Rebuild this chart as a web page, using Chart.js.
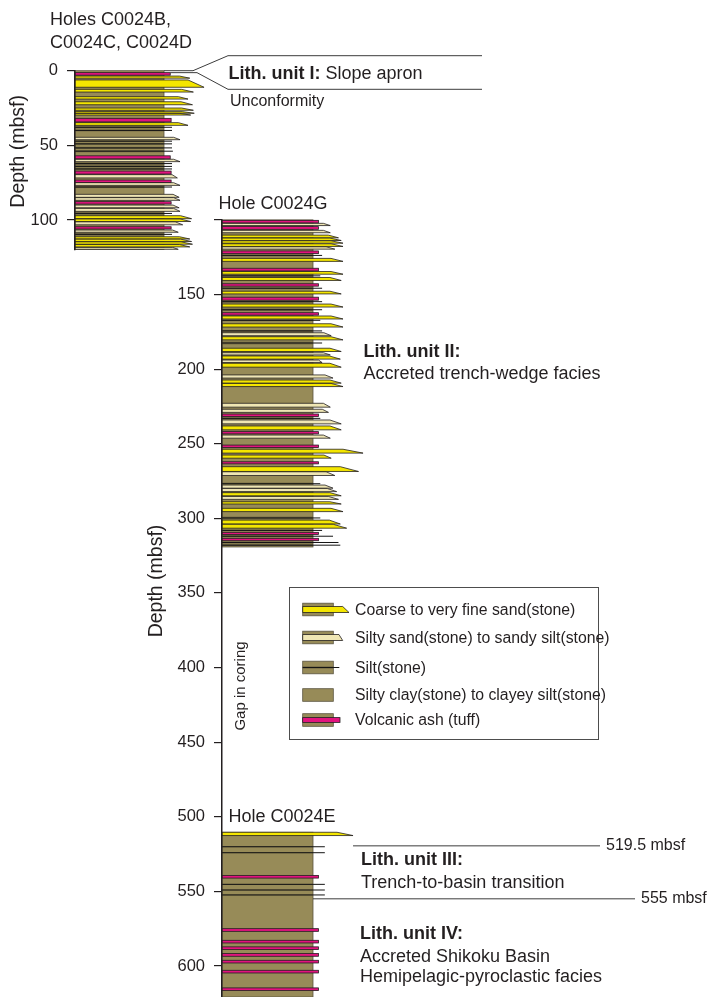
<!DOCTYPE html>
<html>
<head>
<meta charset="utf-8">
<title>Lithology of Site C0024</title>
<script src="https://cdn.jsdelivr.net/npm/chart.js@4.4.1/dist/chart.umd.min.js"></script>
<style>
  html, body { margin: 0; padding: 0; background: #fff; overflow: hidden; width: 707px; height: 997px; }
  canvas { position: absolute; left: 0; top: 0; }
</style>
</head>
<body>
<canvas id="upper" width="707" height="997"></canvas>
<canvas id="lower" width="707" height="1020"></canvas>
<script>
// ---------- Depth axes (mbsf) ----------
const upperTicks = [0, 50, 100];
const lowerTicks = [100, 150, 200, 250, 300, 350, 400, 450, 500, 550, 600];

// ---------- Cored intervals (top, base in mbsf) ----------
const upperInterval = [0, 119.6];      // Holes C0024B, C0024C, C0024D
const holeGInterval = [100, 319.2];    // Hole C0024G
const holeEInterval = [510.4, 620.8];  // Hole C0024E

// ---------- Holes C0024B/C/D layers ----------
// reach = grain-size extent of the layer (1 = column width)
const upperTop   = [1.3, 3.6, 6.2, 12.5, 17.4, 20.8, 25.0, 27.4, 28.6, 31.9, 34.8, 37.2, 39.4, 44.6, 46.6, 48.4, 51.0, 53.2, 57.0, 59.3, 61.4, 63.4, 65.2, 67.2, 69.6, 73.2, 75.0, 77.2, 82.8, 85.0, 87.7, 90.0, 92.2, 94.8, 97.1, 99.3, 101.2, 104.5, 106.7, 108.8, 111.2, 112.8, 114.6, 116.4, 118.3];
const upperBase  = [3.0, 5.0, 11.1, 14.3, 19.0, 22.8, 26.5, 28.5, 29.7, 34.3, 36.6, 38.6, 40.6, 46.2, 47.8, 49.6, 52.4, 54.6, 59.0, 60.9, 63.0, 64.8, 66.4, 69.2, 71.8, 74.8, 76.8, 78.6, 84.8, 86.8, 89.3, 91.8, 94.2, 96.4, 99.1, 101.0, 103.2, 106.0, 108.2, 110.4, 112.7, 114.4, 116.2, 118.0, 119.6];
const upperLith  = ['ash', 'sand', 'sand', 'sand', 'sand', 'sand', 'sand', 'sand', 'sand', 'ash', 'sand', 'silt', 'silt', 'silty', 'silt', 'silt', 'silt', 'silt', 'ash', 'silty', 'silt', 'silt', 'silt', 'ash', 'silty', 'ash', 'silty', 'silt', 'silty', 'silty', 'ash', 'silty', 'silty', 'silt', 'sand', 'sand', 'silty', 'ash', 'silty', 'silt', 'sand', 'sand', 'sand', 'sand', 'silty'];
const upperReach = [1.07, 1.29, 1.45, 1.33, 1.27, 1.32, 1.33, 1.34, 1.30, 1.08, 1.27, 1.09, 1.09, 1.18, 1.09, 1.09, 1.09, 1.10, 1.07, 1.18, 1.09, 1.09, 1.09, 1.08, 1.15, 1.08, 1.18, 1.09, 1.17, 1.18, 1.08, 1.17, 1.18, 1.09, 1.31, 1.30, 1.21, 1.08, 1.16, 1.09, 1.29, 1.31, 1.32, 1.29, 1.16];

// ---------- Hole C0024G layers ----------
const holeGTop   = [100.3, 102.3, 104.5, 107.0, 110.2, 112.2, 114.0, 116.0, 118.0, 120.8, 123.2, 125.8, 132.4, 134.6, 137.0, 138.6, 142.8, 145.2, 147.8, 151.8, 154.2, 156.4, 159.4, 162.2, 164.4, 166.8, 169.6, 173.8, 175.6, 178.3, 181.6, 186.0, 189.0, 191.2, 193.9, 196.1, 203.9, 207.3, 209.6, 222.9, 226.9, 230.1, 232.4, 234.1, 238.1, 241.9, 244.2, 250.9, 253.7, 257.6, 262.1, 265.4, 268.8, 276.1, 277.7, 280.0, 282.8, 285.3, 288.9, 293.3, 298.9, 301.2, 304.0, 307.6, 309.4, 311.4, 313.4, 315.6, 317.4];
const holeGBase  = [102.0, 103.8, 106.3, 108.6, 112.0, 113.8, 115.6, 117.8, 119.6, 122.6, 124.4, 127.8, 134.2, 136.4, 138.0, 140.6, 144.4, 146.4, 149.6, 153.8, 155.4, 158.4, 161.0, 163.8, 166.4, 167.8, 171.8, 175.0, 177.6, 180.4, 183.4, 188.2, 190.5, 193.3, 195.6, 198.7, 206.0, 209.4, 211.7, 225.5, 229.0, 231.8, 233.6, 236.7, 240.7, 243.4, 246.3, 252.6, 256.3, 259.7, 263.5, 268.6, 271.3, 277.5, 279.8, 282.1, 284.9, 287.3, 290.4, 295.5, 300.6, 303.8, 306.6, 308.6, 310.8, 312.6, 315.0, 316.8, 318.6];
const holeGLith  = ['ash', 'silty', 'ash', 'silty', 'sand', 'sand', 'sand', 'sand', 'silty', 'ash', 'silt', 'sand', 'ash', 'sand', 'silt', 'sand', 'ash', 'silt', 'sand', 'ash', 'silt', 'sand', 'silt', 'ash', 'sand', 'silt', 'sand', 'silt', 'silty', 'sand', 'silt', 'sand', 'silty', 'sand', 'silty', 'sand', 'silty', 'sand', 'sand', 'silty', 'silty', 'ash', 'silt', 'silty', 'sand', 'ash', 'silty', 'ash', 'sand', 'sand', 'ash', 'sand', 'silty', 'silt', 'silty', 'silty', 'sand', 'silty', 'sand', 'sand', 'silt', 'sand', 'sand', 'silt', 'ash', 'silt', 'ash', 'silt', 'silt'];
const holeGReach = [1.06, 1.19, 1.06, 1.19, 1.28, 1.31, 1.33, 1.33, 1.24, 1.06, 1.10, 1.33, 1.06, 1.33, 1.08, 1.31, 1.06, 1.10, 1.31, 1.06, 1.10, 1.33, 1.10, 1.06, 1.33, 1.08, 1.33, 1.10, 1.20, 1.33, 1.10, 1.31, 1.19, 1.30, 1.10, 1.31, 1.22, 1.31, 1.33, 1.19, 1.17, 1.06, 1.08, 1.31, 1.31, 1.06, 1.19, 1.06, 1.55, 1.20, 1.06, 1.50, 1.24, 1.08, 1.22, 1.26, 1.31, 1.28, 1.31, 1.33, 1.08, 1.30, 1.37, 1.10, 1.06, 1.22, 1.06, 1.28, 1.30];

// ---------- Hole C0024E layers ----------
const holeETop   = [510.4, 519.8, 523.8, 539.3, 545.0, 548.8, 552.1, 575.0, 582.8, 587.2, 591.7, 596.2, 602.9, 614.7];
const holeEBase  = [512.6, 520.4, 524.4, 541.1, 545.6, 549.4, 552.7, 576.8, 584.6, 589.0, 593.5, 598.0, 604.7, 616.5];
const holeELith  = ['sand', 'silt', 'silt', 'ash', 'silt', 'silt', 'silt', 'ash', 'ash', 'ash', 'ash', 'ash', 'ash', 'ash'];
const holeEReach = [1.44, 1.13, 1.13, 1.06, 1.13, 1.13, 1.13, 1.06, 1.06, 1.06, 1.06, 1.06, 1.06, 1.06];

// ---------- Unit boundaries ----------
const unitIBase = 1.3;                 // base of Lith. unit I (slope apron)
const boundaryDepths = [519.5, 555];   // unit II/III and III/IV boundaries

// ---------- Styling ----------
const FONT = "'Liberation Sans', Arial, Helvetica, sans-serif";
const INK = '#231f20';
const FILL = { clay: '#978b58', sand: '#f4e600', silty: '#efe6b4', silt: '#6a6140', ash: '#e2137e' };
const LITH_NAMES = {
  sand: 'Coarse to very fine sand(stone)',
  silty: 'Silty sand(stone) to sandy silt(stone)',
  silt: 'Silt(stone)',
  clay: 'Silty clay(stone) to clayey silt(stone)',
  ash: 'Volcanic ash (tuff)'
};
const LEGEND_ORDER = ['sand', 'silty', 'silt', 'clay', 'ash'];
const TAPER = 0.6;

Chart.defaults.font.family = FONT;
Chart.defaults.color = INK;

function buildDatasets(holes) {
  const sets = {};
  LEGEND_ORDER.forEach(k => {
    sets[k] = { label: LITH_NAMES[k], lith: k, data: [], pointRadius: 0, pointHoverRadius: 0, showLine: false };
  });
  holes.forEach(h => {
    sets.clay.data.push({ x: 1, y: h.interval[0], base: h.interval[1] });
    h.top.forEach((t, i) => sets[h.lith[i]].data.push({ x: h.reach[i], y: t, base: h.base[i] }));
  });
  return ['clay', 'silty', 'sand', 'silt', 'ash'].map(k => sets[k]);
}

// Paint one bed: x0 = column left, x1 = column right, xr = reach, yt/yb = top/base
function paintLayer(ctx, lith, x0, x1, xr, yt, yb) {
  ctx.save();
  ctx.lineWidth = 0.8;
  ctx.strokeStyle = INK;
  if (lith === 'clay') {
    ctx.fillStyle = FILL.clay;
    ctx.fillRect(x0, yt, x1 - x0, yb - yt);
    ctx.strokeStyle = '#5a5440';
    ctx.strokeRect(x0, yt, x1 - x0, yb - yt);
  } else if (lith === 'sand' || lith === 'silty') {
    const xf = x1 + (xr - x1) * TAPER;
    ctx.beginPath();
    ctx.moveTo(x0, yt);
    ctx.lineTo(xf, yt);
    ctx.lineTo(xr, yb);
    ctx.lineTo(x0, yb);
    ctx.closePath();
    ctx.fillStyle = FILL[lith];
    ctx.fill();
    ctx.stroke();
  } else if (lith === 'silt') {
    ctx.fillStyle = FILL.silt;
    ctx.fillRect(x0, yt, x1 - x0, yb - yt);
    const ym = (yt + yb) / 2;
    ctx.lineWidth = 1;
    ctx.strokeStyle = '#141414';
    ctx.beginPath();
    ctx.moveTo(x0, ym); ctx.lineTo(xr, ym);
    ctx.stroke();
  } else if (lith === 'ash') {
    ctx.fillStyle = FILL.ash;
    ctx.fillRect(x0, yt, xr - x0, yb - yt);
    ctx.strokeRect(x0, yt, xr - x0, yb - yt);
  }
  ctx.restore();
}

const lithologyColumns = {
  id: 'lithologyColumns',
  afterDatasetsDraw(chart) {
    const { ctx, scales: { x, y } } = chart;
    const x0 = x.getPixelForValue(0), x1 = x.getPixelForValue(1);
    chart.data.datasets.forEach(ds => {
      ds.data.forEach(p => {
        paintLayer(ctx, ds.lith, x0, x1, x.getPixelForValue(p.x), y.getPixelForValue(p.y), y.getPixelForValue(p.base));
      });
    });
  }
};

function put(ctx, str, x, y, size, weight, align, baseline) {
  ctx.font = `${weight || 'normal'} ${size}px ${FONT}`;
  ctx.textAlign = align || 'left';
  ctx.textBaseline = baseline || 'alphabetic';
  ctx.fillText(str, x, y);
  return ctx.measureText(str).width;
}

function putRotated(ctx, str, cx, cy, size) {
  ctx.save();
  ctx.translate(cx, cy);
  ctx.rotate(-Math.PI / 2);
  put(ctx, str, 0, 0, size, 'normal', 'center', 'middle');
  ctx.restore();
}

function depthAxis(min, max, ticks, axisWidth, hideFirst) {
  return {
    type: 'linear', reverse: true, min: min, max: max,
    afterFit(scale) { scale.width = axisWidth; },
    afterBuildTicks(scale) { scale.ticks = ticks.map(v => ({ value: v })); },
    ticks: {
      font: { size: 16.5 }, color: INK, padding: 9, autoSkip: false,
      callback: v => (hideFirst && v === ticks[0]) ? '' : String(v)
    },
    grid: { drawOnChartArea: false, drawTicks: true, tickLength: 8, color: INK, lineWidth: 1.2 },
    border: { display: true, color: INK, width: 1.5, z: 1 },
    title: { display: false }
  };
}

// ---------- Upper column: Holes C0024B, C0024C, C0024D ----------
const upperNotes = {
  id: 'upperNotes',
  afterDraw(chart) {
    const { ctx, scales: { x, y } } = chart;
    ctx.save();
    ctx.fillStyle = INK;
    put(ctx, 'Holes C0024B,', 50, 25, 18);
    put(ctx, 'C0024C, C0024D', 50, 47.7, 18);
    putRotated(ctx, 'Depth (mbsf)', 18.5, y.getPixelForValue(54), 19.5);

    // bracket expanding the thin slope-apron unit
    const yTop = y.getPixelForValue(0), yBot = y.getPixelForValue(unitIBase);
    ctx.strokeStyle = '#3c3c3c';
    ctx.lineWidth = 1;
    ctx.beginPath();
    ctx.moveTo(x.getPixelForValue(1), yTop);
    ctx.lineTo(193, yTop);
    ctx.lineTo(228, 55.7);
    ctx.lineTo(482, 55.7);
    ctx.moveTo(x.getPixelForValue(1.07), yBot);
    ctx.lineTo(197, yBot);
    ctx.lineTo(228, 89.3);
    ctx.lineTo(482, 89.3);
    ctx.stroke();

    const w = put(ctx, 'Lith. unit I:', 228.5, 79, 18, 'bold');
    put(ctx, ' Slope apron', 228.5 + w, 79, 18);
    put(ctx, 'Unconformity', 230, 106, 16);
    ctx.restore();
  }
};

new Chart(document.getElementById('upper'), {
  type: 'scatter',
  data: {
    datasets: buildDatasets([
      { interval: upperInterval, top: upperTop, base: upperBase, lith: upperLith, reach: upperReach }
    ])
  },
  options: {
    responsive: false, animation: false, events: [],
    layout: { padding: { top: 70.7, bottom: 997 - 249.3, left: 0, right: 454 } },
    scales: {
      x: { type: 'linear', display: false, min: 0, max: 2 },
      y: depthAxis(upperInterval[0], upperInterval[1], upperTicks, 75, false)
    },
    plugins: { legend: { display: false }, tooltip: { enabled: false } }
  },
  plugins: [lithologyColumns, upperNotes]
});

// ---------- Lower column: Holes C0024G and C0024E ----------
const lowerNotes = {
  id: 'lowerNotes',
  afterDraw(chart) {
    const { ctx, scales: { x, y } } = chart;
    ctx.save();
    ctx.fillStyle = INK;
    put(ctx, 'Hole C0024G', 218.5, 209, 18);
    put(ctx, 'Hole C0024E', 228.5, 821.7, 18);
    putRotated(ctx, 'Depth (mbsf)', 157, y.getPixelForValue(342), 19.5);
    putRotated(ctx, 'Gap in coring', 241, 686, 15);

    put(ctx, 'Lith. unit II:', 363.5, 357, 18, 'bold');
    put(ctx, 'Accreted trench-wedge facies', 363.5, 378.5, 18);
    put(ctx, 'Lith. unit III:', 361, 865, 18, 'bold');
    put(ctx, 'Trench-to-basin transition', 361, 887.5, 18);
    put(ctx, 'Lith. unit IV:', 360, 939, 18, 'bold');
    put(ctx, 'Accreted Shikoku Basin', 360, 961.5, 18);
    put(ctx, 'Hemipelagic-pyroclastic facies', 360, 982, 18);

    // unit boundaries below the coring gap
    const starts = [x.getPixelForValue(holeEReach[0]), x.getPixelForValue(1)];
    const ends = [600, 635];
    ctx.strokeStyle = '#3c3c3c';
    ctx.lineWidth = 1;
    boundaryDepths.forEach((d, i) => {
      const yy = y.getPixelForValue(d);
      ctx.beginPath();
      ctx.moveTo(starts[i], yy);
      ctx.lineTo(ends[i], yy);
      ctx.stroke();
      put(ctx, `${d} mbsf`, ends[i] + 6, yy, 16, 'normal', 'left', 'middle');
    });

    // key
    ctx.strokeStyle = '#4d4d4d';
    ctx.lineWidth = 1;
    ctx.strokeRect(289.5, 587.5, 309, 152);
    const rows = [609.5, 637.5, 667.5, 695, 720];
    const band = { sand: 3, silty: 3, silt: 1, ash: 2.4 };
    const reach = { sand: 349, silty: 342.7, silt: 339.3, ash: 340 };
    LEGEND_ORDER.forEach((k, i) => {
      const cy = rows[i];
      paintLayer(ctx, 'clay', 302.7, 333.3, 333.3, cy - 6.3, cy + 6.3);
      if (k !== 'clay') paintLayer(ctx, k, 302.7, 333.3, reach[k], cy - band[k], cy + band[k]);
      ctx.fillStyle = INK;
      put(ctx, LITH_NAMES[k], 355, cy + 1, 15.8, 'normal', 'left', 'middle');
    });
    ctx.restore();
  }
};

new Chart(document.getElementById('lower'), {
  type: 'scatter',
  data: {
    datasets: buildDatasets([
      { interval: holeGInterval, top: holeGTop, base: holeGBase, lith: holeGLith, reach: holeGReach },
      { interval: holeEInterval, top: holeETop, base: holeEBase, lith: holeELith, reach: holeEReach }
    ])
  },
  options: {
    responsive: false, animation: false, events: [],
    layout: { padding: { top: 219.9, bottom: 23, left: 160, right: 212 } },
    scales: {
      x: { type: 'linear', display: false, min: 0, max: 3 },
      y: depthAxis(holeGInterval[0], holeEInterval[1], lowerTicks, 62, true)
    },
    plugins: { legend: { display: false }, tooltip: { enabled: false } }
  },
  plugins: [lithologyColumns, lowerNotes]
});
</script>
</body>
</html>
